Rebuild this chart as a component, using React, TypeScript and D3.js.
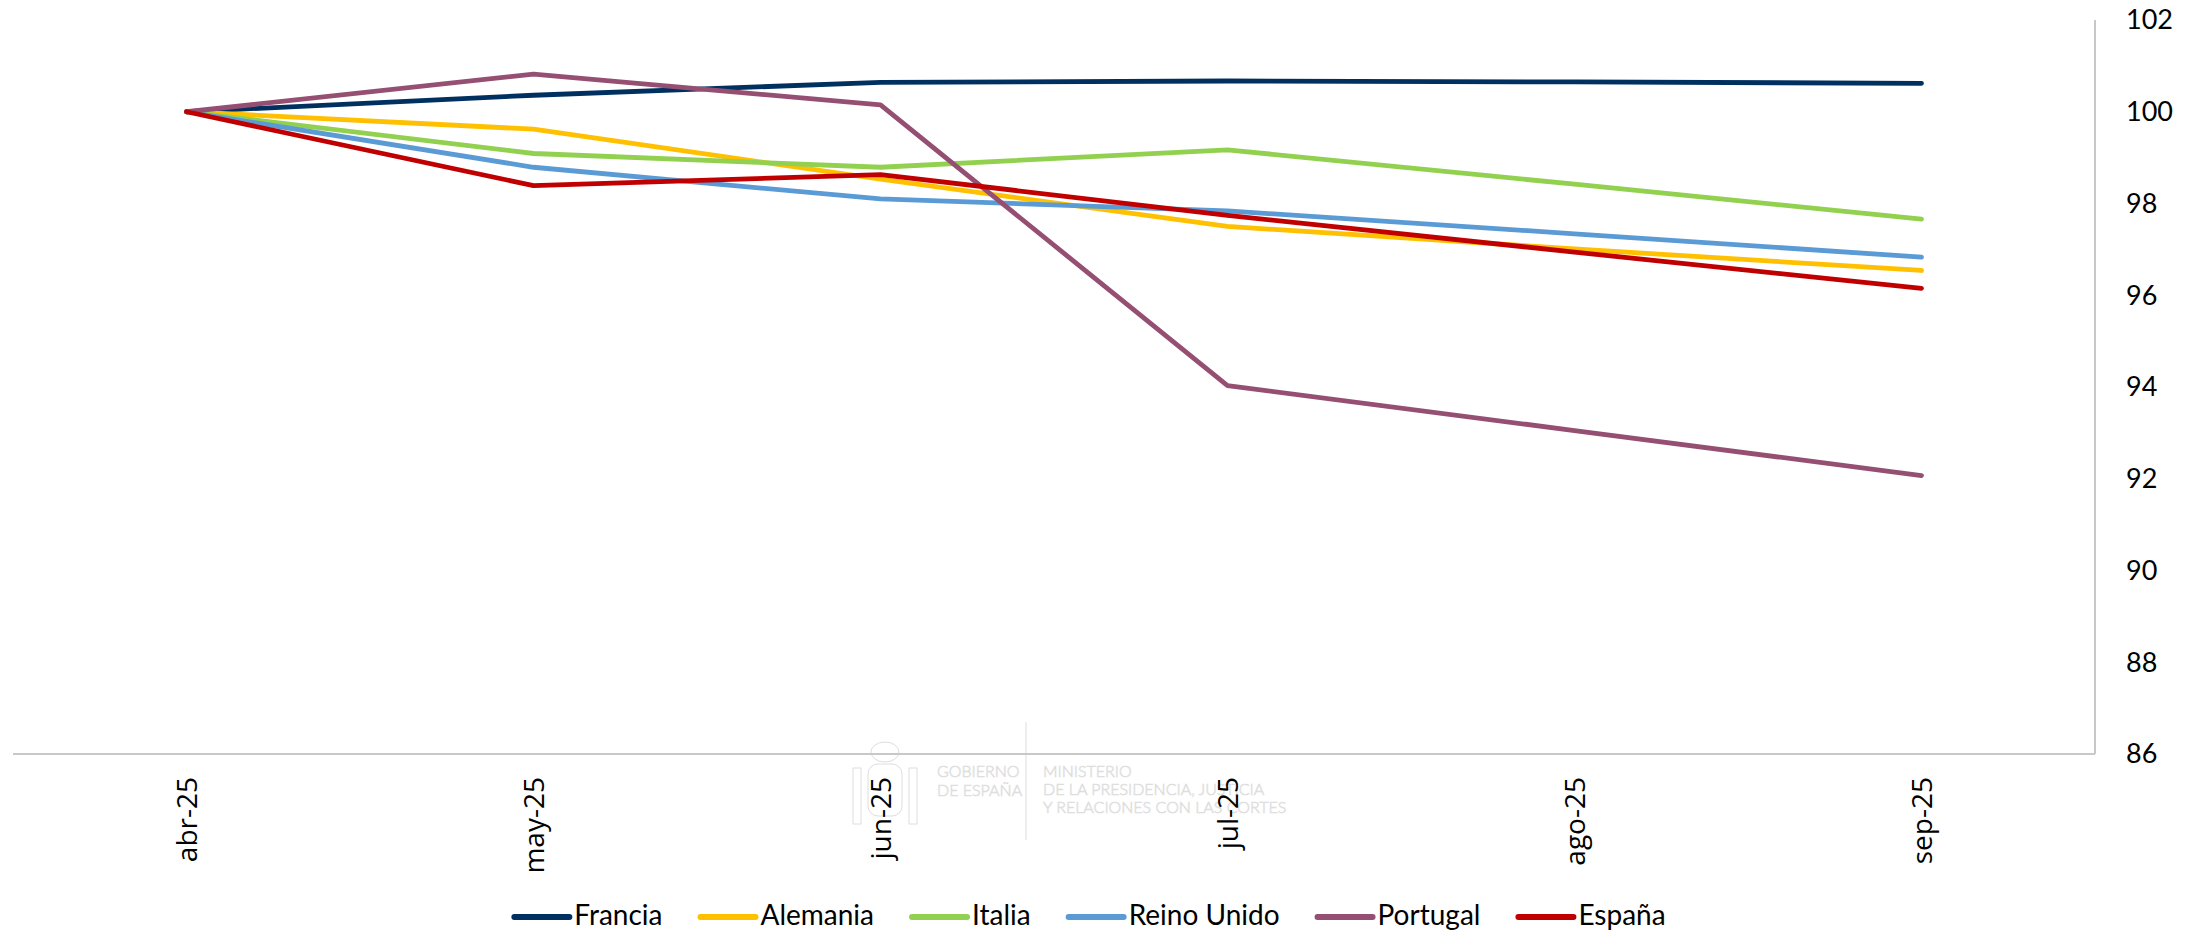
import React, { useEffect, useRef } from "react";
import * as d3 from "d3";

const categories = ["abr-25", "may-25", "jun-25", "jul-25", "ago-25", "sep-25"];
const seriesNames = ["Francia", "Alemania", "Italia", "Reino Unido", "Portugal", "España"];
const francia = [100, 100.36, 100.64, 100.67, 100.65, 100.62];
const alemania = [100, 99.62, 98.53, 97.5, 97.01, 96.54];
const italia = [100, 99.09, 98.79, 99.17, 98.42, 97.66];
const reinoUnido = [100, 98.79, 98.1, 97.84, 97.34, 96.83];
const portugal = [100, 100.82, 100.15, 94.03, 93.05, 92.07];
const espana = [100, 98.39, 98.63, 97.74, 96.94, 96.15];
const yTicks = [86, 88, 90, 92, 94, 96, 98, 100, 102];
const colors = ["#003060", "#FFC000", "#92D050", "#5B9BD5", "#954F72", "#C00000"];

const W = 2202;
const H = 932;
const FONT = "Lato, 'Open Sans', sans-serif";
const XFONT = "'Open Sans', Lato, sans-serif";

export default function App() {
  const ref = useRef<SVGSVGElement | null>(null);

  useEffect(() => {
    document.body.style.margin = "0";
    const svg = d3.select(ref.current);
    svg.selectAll("*").remove();

    const left = 13, right = 2095, top = 20, bottom = 754;
    const x = d3.scaleBand<string>().domain(categories).range([left, right]);
    const y = d3.scaleLinear().domain([86, 102]).range([bottom, top]);
    const cx = (c: string) => (x(c) as number) + x.bandwidth() / 2;

    // watermark
    const wm = svg.append("g");
    const wmStroke = "#dedede";
    wm.append("ellipse").attr("cx", 885).attr("cy", 752).attr("rx", 14).attr("ry", 10)
      .attr("fill", "none").attr("stroke", wmStroke);
    wm.append("rect").attr("x", 868).attr("y", 764).attr("width", 34).attr("height", 52).attr("rx", 10)
      .attr("fill", "none").attr("stroke", wmStroke);
    wm.append("rect").attr("x", 853).attr("y", 768).attr("width", 8).attr("height", 56)
      .attr("fill", "none").attr("stroke", wmStroke);
    wm.append("rect").attr("x", 909).attr("y", 768).attr("width", 8).attr("height", 56)
      .attr("fill", "none").attr("stroke", wmStroke);
    wm.append("line").attr("x1", 1026).attr("x2", 1026).attr("y1", 722).attr("y2", 840)
      .attr("stroke", "#e8e8e8").attr("stroke-width", 1.5);
    const wmText = [
      { t: "GOBIERNO", x: 937, y: 771 },
      { t: "DE ESPAÑA", x: 937, y: 790 },
      { t: "MINISTERIO", x: 1043, y: 771 },
      { t: "DE LA PRESIDENCIA, JUSTICIA", x: 1043, y: 789 },
      { t: "Y RELACIONES CON LAS CORTES", x: 1043, y: 807 },
    ];
    wm.selectAll("text.wm").data(wmText).enter().append("text")
      .attr("x", (d) => d.x).attr("y", (d) => d.y).attr("dy", "0.35em")
      .attr("font-family", FONT).attr("font-size", 16).attr("font-weight", 300)
      .attr("fill", "#fff").attr("stroke", wmStroke).attr("stroke-width", 0.7).text((d) => d.t);

    // axes lines
    svg.append("line").attr("x1", left).attr("x2", right).attr("y1", bottom).attr("y2", bottom)
      .attr("stroke", "#C8C8C8").attr("stroke-width", 2);
    svg.append("line").attr("x1", right).attr("x2", right).attr("y1", top).attr("y2", bottom)
      .attr("stroke", "#C8C8C8").attr("stroke-width", 2);

    // y tick labels
    svg.selectAll("text.yt").data(yTicks).enter().append("text")
      .attr("x", 2126).attr("y", (d) => y(d)).attr("dy", "0.35em")
      .attr("font-family", FONT).attr("font-size", 27).attr("fill", "#000")
      .text((d) => String(d));

    // x labels
    svg.selectAll("text.xt").data(categories).enter().append("text")
      .attr("transform", (d) => `translate(${cx(d)},777) rotate(-90)`)
      .attr("dy", "0.36em").attr("text-anchor", "end")
      .attr("font-family", XFONT).attr("font-size", 28).attr("fill", "#000")
      .text((d) => d);

    // lines
    const data = [francia, alemania, italia, reinoUnido, portugal, espana];
    const line = d3.line<number>().x((_, i) => cx(categories[i])).y((v) => y(v));
    data.forEach((vals, i) => {
      svg.append("path").attr("d", line(vals) as string).attr("fill", "none")
        .attr("stroke", colors[i]).attr("stroke-width", 4.8)
        .attr("stroke-linecap", "round").attr("stroke-linejoin", "round");
    });

    // legend
    const lg = svg.append("g");
    const items = seriesNames.map((n, i) => {
      const g = lg.append("g");
      g.append("line").attr("x1", 0).attr("x2", 55).attr("y1", 917).attr("y2", 917)
        .attr("stroke", colors[i]).attr("stroke-width", 6).attr("stroke-linecap", "round");
      const t = g.append("text").attr("x", 60).attr("y", 925)
        .attr("font-family", FONT).attr("font-size", 28).attr("fill", "#000").text(n);
      const w = (t.node() as SVGTextElement).getComputedTextLength();
      return { g, w: 60 + w };
    });
    const gap = 38;
    const total = items.reduce((s, it) => s + it.w, 0) + gap * (items.length - 1);
    let pos = 1090 - total / 2;
    items.forEach((it) => {
      it.g.attr("transform", `translate(${pos},0)`);
      pos += it.w + gap;
    });
  }, []);

  return <svg ref={ref} width={W} height={H} style={{ display: "block", background: "#fff" }} />;
}
